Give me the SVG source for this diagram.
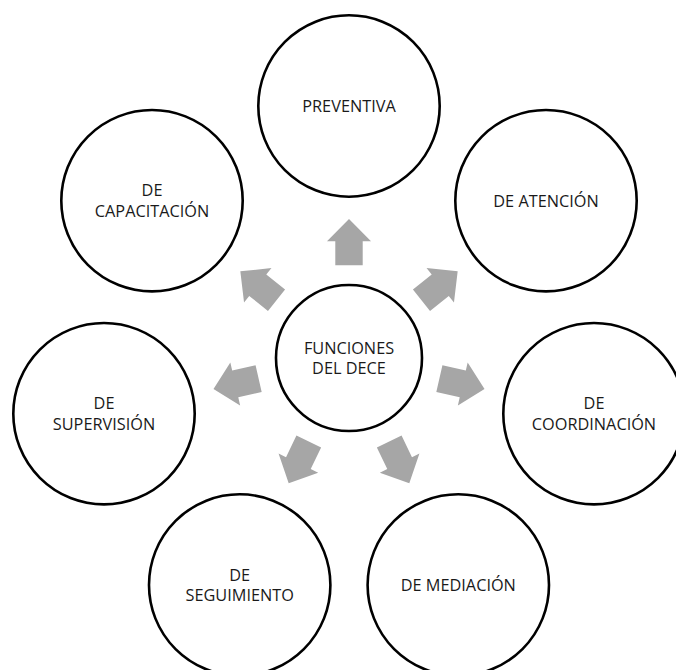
<svg xmlns="http://www.w3.org/2000/svg" width="676" height="670" viewBox="0 0 676 670">
  <style>
    .node circle { fill: #ffffff; stroke: #000000; stroke-width: 2.6; }
    .node text { font-family: "Open Sans", "Noto Sans", "Liberation Sans", sans-serif; font-size: 16.3px; fill: #1a1a1a; text-anchor: middle; }
    .arrow { fill: #a6a6a6; }
  </style>
  <defs>
    <!-- block arrow pointing up, hub centre at the origin -->
    <path id="blockArrow" d="M -13.7,-92.7 L -13.7,-116.7 L -22,-116.7 L 0,-139 L 22,-116.7 L 13.7,-116.7 L 13.7,-92.7 Z"/>
  </defs>

  <rect width="676" height="670" fill="#ffffff"/>

  <!-- connectors: seven arrows radiating from the hub -->
  <g id="connectors" transform="translate(349,358)">
    <use href="#blockArrow" class="arrow" transform="rotate(0)"/>
    <use href="#blockArrow" class="arrow" transform="rotate(51.43)"/>
    <use href="#blockArrow" class="arrow" transform="rotate(102.86)"/>
    <use href="#blockArrow" class="arrow" transform="rotate(154.29)"/>
    <use href="#blockArrow" class="arrow" transform="rotate(205.71)"/>
    <use href="#blockArrow" class="arrow" transform="rotate(257.14)"/>
    <use href="#blockArrow" class="arrow" transform="rotate(308.57)"/>
  </g>

  <g id="hub" class="node">
    <circle cx="349" cy="358" r="73"/>
    <text x="349" y="353.5">FUNCIONES</text>
    <text x="349" y="374.2">DEL DECE</text>
  </g>

  <g id="preventiva" class="node">
    <circle cx="349" cy="106" r="90.7"/>
    <text x="349" y="112">PREVENTIVA</text>
  </g>

  <g id="atencion" class="node">
    <circle cx="546" cy="200.7" r="90.7"/>
    <text x="546" y="206.5">DE ATENCIÓN</text>
  </g>

  <g id="coordinacion" class="node">
    <circle cx="594" cy="413.7" r="90.7"/>
    <text x="594" y="409.2">DE</text>
    <text x="594" y="429.9">COORDINACIÓN</text>
  </g>

  <g id="mediacion" class="node">
    <circle cx="458.3" cy="585" r="90.7"/>
    <text x="458.3" y="590.8">DE MEDIACIÓN</text>
  </g>

  <g id="seguimiento" class="node">
    <circle cx="239.7" cy="585" r="90.7"/>
    <text x="239.7" y="580.5">DE</text>
    <text x="239.7" y="601.2">SEGUIMIENTO</text>
  </g>

  <g id="supervision" class="node">
    <circle cx="104" cy="413.7" r="90.7"/>
    <text x="104" y="409.2">DE</text>
    <text x="104" y="429.9">SUPERVISIÓN</text>
  </g>

  <g id="capacitacion" class="node">
    <circle cx="152" cy="200.7" r="90.7"/>
    <text x="152" y="196.2">DE</text>
    <text x="152" y="216.9">CAPACITACIÓN</text>
  </g>
</svg>
